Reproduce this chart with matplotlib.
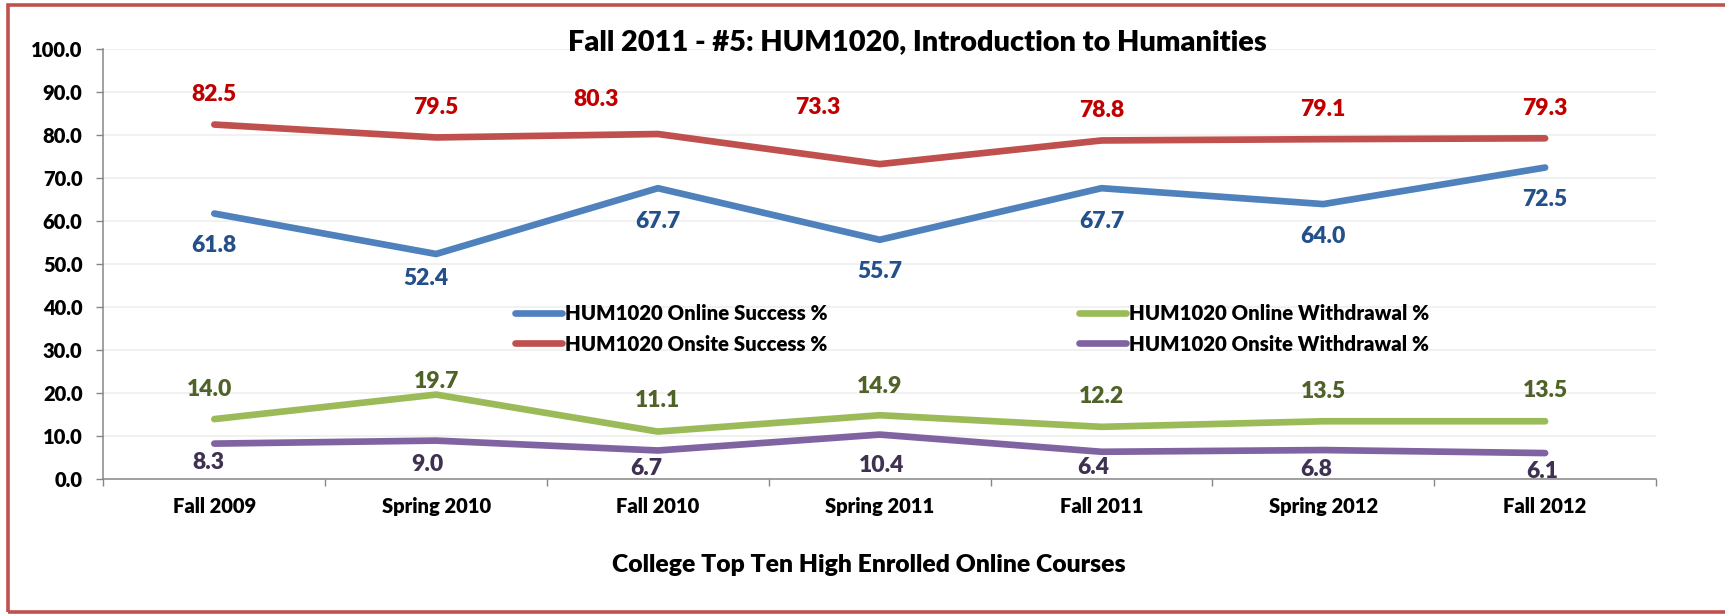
import matplotlib
matplotlib.use("Agg")
import matplotlib.pyplot as plt
from matplotlib.patches import Rectangle
from matplotlib.ticker import MultipleLocator, FixedLocator

plt.rcParams['font.family'] = ['Lato', 'DejaVu Sans']
plt.rcParams['font.weight'] = 'heavy'

# ==== Data ====
terms = ["Fall 2009", "Spring 2010", "Fall 2010", "Spring 2011", "Fall 2011", "Spring 2012", "Fall 2012"]
online_success = [61.8, 52.4, 67.7, 55.7, 67.7, 64.0, 72.5]
online_withdrawal = [14.0, 19.7, 11.1, 14.9, 12.2, 13.5, 13.5]
onsite_success = [82.5, 79.5, 80.3, 73.3, 78.8, 79.1, 79.3]
onsite_withdrawal = [8.3, 9.0, 6.7, 10.4, 6.4, 6.8, 6.1]

# label nudges in pixels (dx, dy), as placed in the original sheet
online_success_off = [(0, -32), (-10, -25), (0, -33), (0, -32), (0, -33), (0, -32), (0, -32)]
online_withdrawal_off = [(-5, 30), (0, 13), (0, 31), (0, 29), (0, 30), (0, 30), (0, 31)]
onsite_success_off = [(0, 30), (0, 30), (-62, 35), (-62, 57), (0, 30), (0, 30), (0, 30)]
onsite_withdrawal_off = [(-6, -19), (-9, -24), (-12, -18), (2, -31), (-8, -16), (-7, -19), (-3, -18)]

series = [
    ("HUM1020 Online Success %", online_success, "#4F81BD", "#23508A", online_success_off),
    ("HUM1020 Onsite Success %", onsite_success, "#C0504D", "#C00000", onsite_success_off),
    ("HUM1020 Online Withdrawal %", online_withdrawal, "#9BBB59", "#4F6228", online_withdrawal_off),
    ("HUM1020 Onsite Withdrawal %", onsite_withdrawal, "#8064A2", "#3F3151", onsite_withdrawal_off),
]

# ==== Figure ====
W, H = 1725, 615
fig = plt.figure(figsize=(W / 100, H / 100), dpi=100)
ax = fig.add_axes([103.4 / W, 1 - 479.3 / H, (1656 - 103.4) / W, (479.3 - 49.3) / H])

x = list(range(len(terms)))
handles = []
for name, vals, color, lcolor, offs in series:
    ln, = ax.plot(x, vals, color=color, lw=4.8, solid_capstyle='round', solid_joinstyle='round', label=name, zorder=3)
    handles.append(ln)
    for xi, v, (dx, dy) in zip(x, vals, offs):
        ax.annotate(f"{v:.1f}", (xi, v), xytext=(dx, dy), textcoords='offset pixels',
                    ha='center', va='center', fontsize=16.5, color=lcolor, zorder=4)

ax.set_xlim(-0.5, len(terms) - 0.5)
ax.set_ylim(0, 100)
ax.yaxis.set_major_locator(MultipleLocator(10))
ax.yaxis.set_major_formatter(lambda v, p: f"{v:.1f}")
ax.grid(axis='y', color='#EDEDED', lw=1.1, zorder=0)

ax.set_xticks(x)
ax.set_xticklabels(terms)
ax.xaxis.set_minor_locator(FixedLocator([i - 0.5 for i in range(len(terms) + 1)]))
ax.tick_params(axis='x', which='major', length=0, pad=13, labelsize=14.5)
ax.tick_params(axis='x', which='minor', length=5, width=1, color='#868686')
ax.tick_params(axis='y', length=5, width=1, color='#868686', pad=10, labelsize=14.5)

for s in ['top', 'right']:
    ax.spines[s].set_visible(False)
for s in ['left', 'bottom']:
    ax.spines[s].set_color('#868686')
    ax.spines[s].set_linewidth(1.1)

ax.legend(handles=handles, ncol=2, loc='center left', bbox_to_anchor=(515 / W, 1 - 329 / H),
          bbox_transform=fig.transFigure, frameon=False, fontsize=14.7, handlelength=2.3,
          handletextpad=0.15, columnspacing=12.3, labelspacing=0.55, borderpad=0, borderaxespad=0)

fig.text(917 / W, 1 - 50 / H, "Fall 2011 - #5: HUM1020, Introduction to Humanities",
         ha='center', va='baseline', fontsize=20.8)
fig.text(869 / W, 1 - 565 / H, "College Top Ten High Enrolled Online Courses",
         ha='center', va='center', fontsize=17.8)

# red frame round the chart area
fig.patches.append(Rectangle((7.5 / W, 3 / H), 1.2, (612 - 4.5) / H, transform=fig.transFigure,
                             fill=False, edgecolor='#C0504D', lw=2.6, zorder=10))

fig.savefig("out.png", dpi=100)
